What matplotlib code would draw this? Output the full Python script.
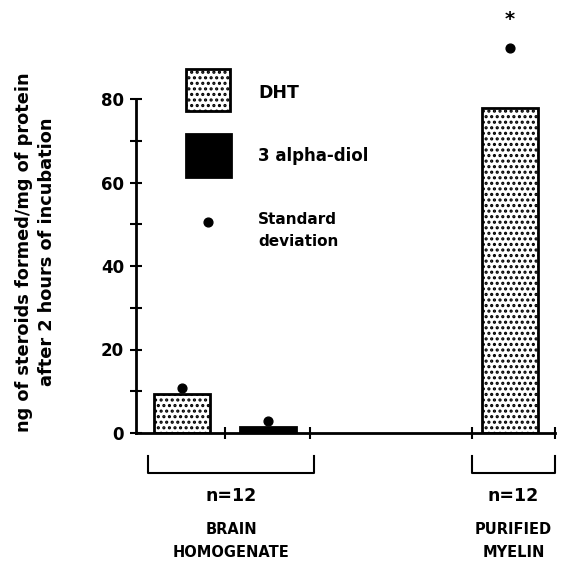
import matplotlib
matplotlib.use("Agg")
import matplotlib.pyplot as plt
from matplotlib.patches import Rectangle

plt.rcParams['font.family'] = ['DejaVu Sans']
plt.rcParams['font.weight'] = 'bold'
plt.rcParams['hatch.linewidth'] = 1.5

# data
groups = ["BRAIN\nHOMOGENATE", "PURIFIED\nMYELIN"]
n_labels = ["n=12", "n=12"]
series = ["DHT", "3 alpha-diol"]
bar_pos = [46, 132, 374]          # bar centres (axis units)
bar_series = ["DHT", "3 alpha-diol", "DHT"]
bar_values = [9.3, 1.4, 77.8]
sd_values = [10.8, 2.9, 92.2]
signif = [False, False, True]
yticks = [0, 20, 40, 60, 80]
yminor = [10, 30, 50, 70]
xticks = [89, 174, 336, 419]
bracket_spans = [(12, 178), (336, 419)]
width = 56

fig = plt.figure(figsize=(5.65, 5.66), dpi=100)
ax = fig.add_axes([136/565, 1-433/566, 419/565, 417.5/566])
ax.set_xlim(0, 419)
ax.set_ylim(0, 100)

styles = {
    "DHT": dict(facecolor="white", edgecolor="black", hatch="...", linewidth=2),
    "3 alpha-diol": dict(facecolor="black", edgecolor="black", hatch="...", linewidth=2),
}
for x, s, v in zip(bar_pos, bar_series, bar_values):
    ax.bar(x, v, width=width, **styles[s], zorder=2)
ax.scatter(bar_pos, sd_values, s=40, color="black", zorder=3, clip_on=False)
for x, sd, sg in zip(bar_pos, sd_values, signif):
    if sg:
        ax.text(x, sd + 6.8, "*", ha="center", va="center", fontsize=14,
                fontweight="bold")

for sp in ["top", "right"]:
    ax.spines[sp].set_visible(False)
ax.spines["left"].set_bounds(0, 80)
ax.spines["left"].set_linewidth(2)
ax.spines["bottom"].set_linewidth(2)
ax.set_yticks(yticks)
ax.set_yticks(yminor, minor=True)
ax.set_yticklabels([str(t) for t in yticks], fontsize=12, fontweight="bold")
ax.tick_params(axis="y", which="both", direction="inout", length=9, width=1.5, pad=4)
ax.set_xticks(xticks)
ax.set_xticklabels([])
ax.tick_params(axis="x", which="both", direction="inout", length=9, width=1.5)

# brackets and group labels
for (a, b), nl, g in zip(bracket_spans, n_labels, groups):
    ax.plot([a, a, b, b], [-5.5, -9.7, -9.7, -5.5], color="black", lw=1.5,
            clip_on=False)
    c = (a + b) / 2
    ax.text(c, -15.0, nl, ha="center", va="center", fontsize=12.5)
    l1, l2 = g.split("\n")
    ax.text(c, -23.0, l1, ha="center", va="center", fontsize=10.5)
    ax.text(c, -28.6, l2, ha="center", va="center", fontsize=10.5)

# legend (drawn manually)
ax.add_patch(Rectangle((50, 77.1), 44, 10.1, **styles["DHT"], zorder=2))
ax.add_patch(Rectangle((50, 61.3), 45, 10.3, **styles["3 alpha-diol"], zorder=2))
ax.scatter([72], [50.5], s=40, color="black", zorder=3)
ax.text(122, 81.5, "DHT", va="center", fontsize=12.5)
ax.text(122, 66.3, "3 alpha-diol", va="center", fontsize=12)
ax.text(122, 51.2, "Standard", va="center", fontsize=11)
ax.text(122, 45.8, "deviation", va="center", fontsize=11)

# y label
fig.text(24/565, 1-252/566, "ng of steroids formed/mg of protein", rotation=90,
         ha="center", va="center", fontsize=12.8)
fig.text(47/565, 1-252/566, "after 2 hours of incubation", rotation=90,
         ha="center", va="center", fontsize=12.8)

fig.savefig("out.png", dpi=100)
